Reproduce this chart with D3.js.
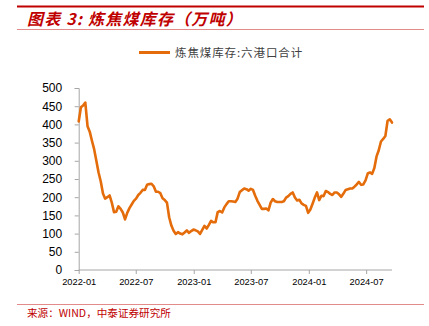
<!DOCTYPE html>
<html>
<head>
<meta charset="utf-8">
<script src="https://cdn.jsdelivr.net/npm/d3@7"></script>
<style>
  html, body { margin: 0; padding: 0; background: #fff; }
  svg { display: block; }
</style>
</head>
<body>
<svg id="chart" width="429" height="326"></svg>
<script>
// Weekly coking-coal inventory at six ports (10k tonnes), first week 2022-01-01
const startDate = "2022-01-01";
const stockValues = [
  408, 447, 452, 460, 395, 380, 355, 332, 300, 268,
  243, 210, 196, 200, 205, 185, 159, 160, 175, 168,
  158, 139, 157, 170, 180, 190, 196, 206, 212, 220,
  220, 234, 236, 237, 230, 215, 215, 211, 197, 192,
  185, 145, 122, 108, 99, 104, 100, 98, 103, 109,
  102, 107, 111, 109, 106, 99, 110, 121, 114, 124,
  135, 131, 131, 159, 162, 158, 172, 181, 189, 189,
  188, 187, 196, 214, 219, 224, 222, 218, 223, 220,
  204, 190, 179, 168, 168, 169, 164, 185, 195, 189,
  187, 187, 187, 189, 199, 203, 209, 213, 199, 191,
  193, 183, 179, 176, 157, 166, 182, 199, 213, 192,
  204, 203, 217, 214, 209, 206, 213, 213, 208, 201,
  210, 220, 222, 224, 224, 229, 235, 242, 234, 235,
  246, 265, 268, 264, 280, 312, 329, 353, 360, 368,
  410, 414, 405
];
const xTickLabels = ["2022-01", "2022-07", "2023-01", "2023-07", "2024-01", "2024-07"];
const yTickValues = [0, 50, 100, 150, 200, 250, 300, 350, 400, 450, 500];

const titleText = "图表 3: 炼焦煤库存（万吨）";
const legendText = "炼焦煤库存:六港口合计";
const sourceText = "来源：WIND，中泰证券研究所";

const parseDay = d3.utcParse("%Y-%m-%d");
const parseMonth = d3.utcParse("%Y-%m");
const t0 = parseDay(startDate);
const series = stockValues.map((v, i) => ({ date: d3.utcDay.offset(t0, 7 * i), value: v }));

const svg = d3.select("#chart");
const red = "#c00000";
const axisColor = "#a6a6a6";
const lineColor = "#e46c0a";

// Header and footer rules
svg.append("line").attr("x1", 17).attr("x2", 424).attr("y1", 6.5).attr("y2", 6.5)
  .attr("stroke", red).attr("stroke-width", 2.2);
svg.append("line").attr("x1", 17).attr("x2", 424).attr("y1", 29.5).attr("y2", 29.5)
  .attr("stroke", "#e38b8b").attr("stroke-width", 1);
svg.append("line").attr("x1", 17).attr("x2", 424).attr("y1", 304.5).attr("y2", 304.5)
  .attr("stroke", "#e38b8b").attr("stroke-width", 1);

svg.append("text").attr("x", 27).attr("y", 25)
  .attr("fill", red)
  .attr("font-family", "'Noto Sans CJK SC', sans-serif")
  .attr("font-size", 16).attr("font-weight", "bold").attr("font-style", "italic")
  .attr("letter-spacing", 1.2)
  .text(titleText);

svg.append("text").attr("x", 27).attr("y", 317)
  .attr("fill", red)
  .attr("font-family", "'Noto Sans CJK SC', sans-serif")
  .attr("font-size", 10.6)
  .text(sourceText);

// Legend
svg.append("line").attr("x1", 139).attr("x2", 170).attr("y1", 52.5).attr("y2", 52.5)
  .attr("stroke", lineColor).attr("stroke-width", 3);
svg.append("text").attr("x", 175).attr("y", 57)
  .attr("fill", "#404040")
  .attr("font-family", "'Noto Sans CJK SC', sans-serif")
  .attr("font-size", 11.5)
  .attr("letter-spacing", 0.9)
  .text(legendText);

// Scales
const x = d3.scaleUtc()
  .domain([t0, series[series.length - 1].date])
  .range([78.7, 392]);
const y = d3.scaleLinear().domain([0, 500]).range([270, 88]);

// Y axis
const yAxis = svg.append("g").attr("transform", "translate(78.7,0)")
  .call(d3.axisLeft(y).tickValues(yTickValues).tickSize(4).tickPadding(12.5));
yAxis.select(".domain").attr("stroke", axisColor);
yAxis.selectAll(".tick line").attr("stroke", axisColor);
yAxis.selectAll("text")
  .attr("fill", "#000")
  .attr("font-family", "'Liberation Sans', Arial, sans-serif")
  .attr("font-size", 12);

// X axis
const xTicks = xTickLabels.map(s => parseMonth(s));
const xAxis = svg.append("g").attr("transform", "translate(0,270)")
  .call(d3.axisBottom(x).tickValues(xTicks).tickSize(4).tickPadding(4)
    .tickFormat(d3.utcFormat("%Y-%m")));
xAxis.select(".domain").attr("stroke", axisColor).attr("d", "M78.7,0H392");
xAxis.selectAll(".tick line").attr("stroke", axisColor);
xAxis.selectAll("text")
  .attr("fill", "#000")
  .attr("font-family", "'Liberation Sans', Arial, sans-serif")
  .attr("font-size", 9.3);

// Inventory line
const line = d3.line()
  .x(d => x(d.date))
  .y(d => y(d.value))
  .curve(d3.curveLinear);
svg.append("path").datum(series)
  .attr("fill", "none")
  .attr("stroke", lineColor)
  .attr("stroke-width", 2.6)
  .attr("stroke-linejoin", "round")
  .attr("stroke-linecap", "round")
  .attr("d", line);
</script>
</body>
</html>
